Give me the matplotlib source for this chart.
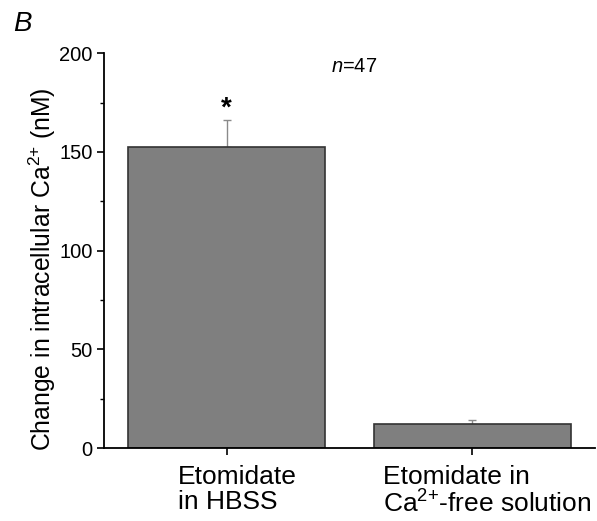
import matplotlib
matplotlib.use("Agg")
import matplotlib.pyplot as plt
from matplotlib.ticker import MultipleLocator

categories = ["Etomidate\nin HBSS", "Etomidate in\nCa$^{2{+}}$-free solution"]
values = [152.4, 12.0]
errors_upper = [13.7, 2.0]
yticks = [0, 50, 100, 150, 200]

plt.rcParams['font.family'] = ['Liberation Sans', 'DejaVu Sans']
plt.rcParams['mathtext.fontset'] = 'custom'
plt.rcParams['mathtext.rm'] = 'Liberation Sans'
plt.rcParams['mathtext.it'] = 'Liberation Sans:italic'
plt.rcParams['mathtext.bf'] = 'Liberation Sans:bold'
plt.rcParams['mathtext.default'] = 'rm'

fig = plt.figure(figsize=(5.97, 5.21), dpi=100)
ax = fig.add_axes([0.174, 0.140, 0.823, 0.758])

x = list(range(len(categories)))
ax.bar(x, values, width=0.8, color='#7f7f7f', edgecolor='#333333', linewidth=1.2, zorder=2)
ax.errorbar(x, values, yerr=[[0]*len(values), errors_upper], fmt='none',
            ecolor='#8a8a8a', elinewidth=1.0, capsize=3, capthick=1.0, zorder=1)

ax.set_xlim(-0.5, 1.5)
ax.set_ylim(0, 200)
ax.set_yticks(yticks)
ax.yaxis.set_minor_locator(MultipleLocator(25))
ax.set_xticks(x)
ax.set_xticklabels([])
offsets = [-0.199, -0.362]
for xi, c, off in zip(x, categories, offsets):
    ax.text(xi + off, -8.5, c, ha='left', va='top', fontsize=19,
            transform=ax.transData, linespacing=1.05)

ax.tick_params(axis='y', which='major', direction='out', length=5, width=1.2, labelsize=14.5, pad=3)
ax.tick_params(axis='y', which='minor', direction='out', length=3, width=1.0)
ax.tick_params(axis='x', which='major', direction='out', length=5, width=1.2)
for s in ['top', 'right']:
    ax.spines[s].set_visible(False)
for s in ['left', 'bottom']:
    ax.spines[s].set_linewidth(1.3)

ax.set_ylabel("Change in intracellular Ca$^{2{+}}$ (nM)", fontsize=17.8)
ax.yaxis.set_label_coords(-0.094, 0.454)
ax.text(0, 172, "*", ha='center', va='center', fontsize=20, fontweight='bold')
ax.text(0.423, 193, "$\\it{n}$=47", ha='left', va='center', fontsize=14.5)
fig.text(0.022, 0.954, "B", fontsize=20, style='italic', ha='left', va='center')

fig.savefig("out.png", dpi=100)
